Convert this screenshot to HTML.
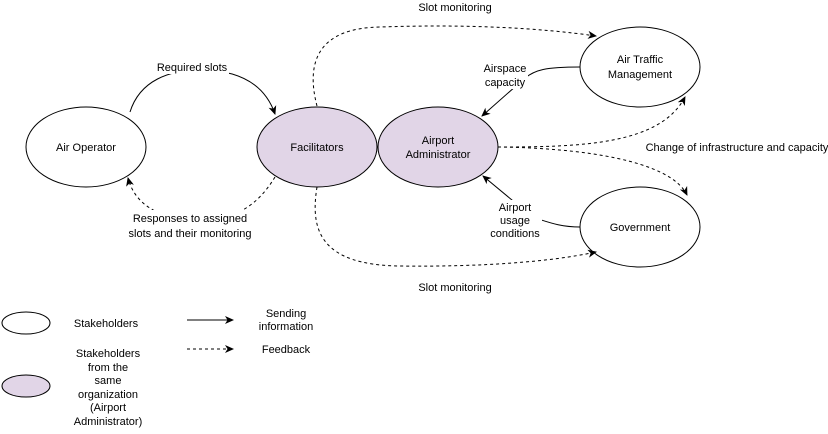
<!DOCTYPE html>
<html><head><style>
body{margin:0;background:#fff;}
svg text{font-family:"Liberation Sans",Arial,sans-serif;font-size:11px;fill:#000;}
</style></head><body>
<svg width="828" height="429" viewBox="0 0 828 429" xmlns="http://www.w3.org/2000/svg">
<defs>
<marker id="a" markerWidth="10" markerHeight="10" refX="8" refY="5" orient="auto" markerUnits="userSpaceOnUse">
<path d="M0,1 L9,5 L0,9 L2.5,5 Z" fill="#000"/></marker>
</defs>
<g stroke="#000" fill="none" stroke-width="1">
<ellipse cx="86" cy="147" rx="60" ry="40" fill="#fff"/>
<ellipse cx="317" cy="147" rx="60" ry="40" fill="#e1d5e7"/>
<ellipse cx="438" cy="147" rx="60" ry="40" fill="#e1d5e7"/>
<ellipse cx="640" cy="67" rx="60" ry="40" fill="#fff"/>
<ellipse cx="640" cy="227" rx="60" ry="40" fill="#fff"/>
<ellipse cx="26" cy="323" rx="24" ry="11" fill="#fff"/>
<ellipse cx="26" cy="386" rx="24" ry="11" fill="#e1d5e7"/>

<path d="M130,112 C140,80 170,70 200,70 C240,70 265,85 275,114" marker-end="url(#a)"/>
<path d="M275,177 C255,210 230,220 200,220 C160,220 135,205 128,178" stroke-dasharray="3,3" marker-end="url(#a)"/>
<path d="M317,106 C305,60 320,28 380,27 C470,24 540,28 596,36" stroke-dasharray="3,3" marker-end="url(#a)"/>
<path d="M317,187 C310,230 320,265 400,266 C480,267 550,262 596,252" stroke-dasharray="3,3" marker-end="url(#a)"/>
<path d="M580,67 C545,67 535,70 525,78 L482,116" marker-end="url(#a)"/>
<path d="M580,227 C560,227 548,222 535,218 M518,205 L483,176" marker-end="url(#a)"/>
<path d="M498,147 C580,147 660,145 685,97" stroke-dasharray="3,3" marker-end="url(#a)"/>
<path d="M498,147 C580,148 670,160 687,195" stroke-dasharray="3,3" marker-end="url(#a)"/>
<path d="M187,320 L233,320" marker-end="url(#a)"/>
<path d="M187,349 L233,349" stroke-dasharray="3,3" marker-end="url(#a)"/>
</g>
<g fill="#fff">
<rect x="155" y="60" width="74" height="14"/>
<rect x="128" y="210" width="125" height="30"/>
<rect x="482" y="61" width="46" height="28"/>
<rect x="490" y="200" width="52" height="40"/>
</g>
<g text-anchor="middle">
<text x="86" y="151" font-size="12">Air Operator</text>
<text x="317" y="151" font-size="12">Facilitators</text>
<text x="438" y="144" font-size="12">Airport</text>
<text x="438" y="158" font-size="12">Administrator</text>
<text x="640" y="63" font-size="12">Air Traffic</text>
<text x="640" y="78" font-size="12">Management</text>
<text x="640" y="231" font-size="12">Government</text>
<text x="192" y="71">Required slots</text>
<text x="190" y="222">Responses to assigned</text>
<text x="190" y="237">slots and their monitoring</text>
<text x="455" y="11">Slot monitoring</text>
<text x="455" y="291">Slot monitoring</text>
<text x="505" y="72">Airspace</text>
<text x="505" y="86">capacity</text>
<text x="515" y="211">Airport</text>
<text x="515" y="224">usage</text>
<text x="515" y="237">conditions</text>
<text x="737" y="151">Change of infrastructure and capacity</text>
<text x="106" y="327">Stakeholders</text>
<text x="286" y="317">Sending</text>
<text x="286" y="330">information</text>
<text x="286" y="353">Feedback</text>
<text x="108" y="357">Stakeholders</text>
<text x="108" y="371">from the</text>
<text x="108" y="384">same</text>
<text x="108" y="398">organization</text>
<text x="108" y="411">(Airport</text>
<text x="108" y="425">Administrator)</text>
</g>
</svg>
</body></html>
